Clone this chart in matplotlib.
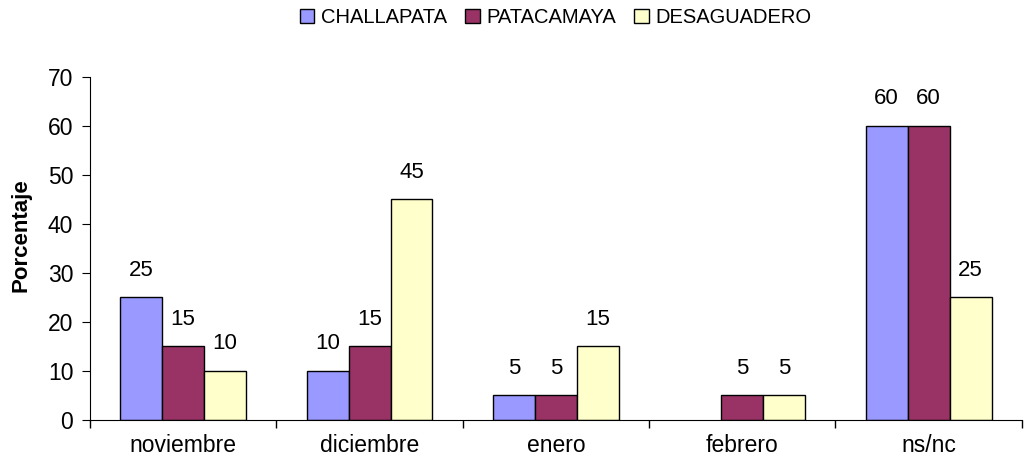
import matplotlib.pyplot as plt
import numpy as np

plt.rcParams['font.family'] = ['Liberation Sans', 'DejaVu Sans']

meses = ["noviembre", "diciembre", "enero", "febrero", "ns/nc"]
challapata = [25, 10, 5, 0, 60]
patacamaya = [15, 15, 5, 5, 60]
desaguadero = [10, 45, 15, 5, 25]

series = [("CHALLAPATA", challapata, "#9999FF"),
          ("PATACAMAYA", patacamaya, "#993366"),
          ("DESAGUADERO", desaguadero, "#FFFFCC")]

fig = plt.figure(figsize=(10.27, 4.7), dpi=100)
ax = fig.add_axes([0.0876, 0.1064, 0.9074, 0.7298])

x = np.arange(len(meses))
w = 0.225
for i, (nombre, vals, col) in enumerate(series):
    pos = x + (i - 1) * w
    bars = ax.bar(pos, vals, w, color=col, edgecolor="black", linewidth=1, label=nombre)
    for b, v in zip(bars, vals):
        if v == 0:
            b.set_edgecolor("none")
            continue
        ax.annotate(str(v), (b.get_x() + b.get_width() / 2, v), xytext=(0, 12),
                    textcoords="offset points", ha="center", va="bottom", fontsize=16)

ax.set_xlim(-0.5, len(meses) - 0.5)
ax.set_ylim(0, 70)
ax.set_yticks(range(0, 71, 10))
ax.set_xticks(x)
ax.set_xticklabels(meses)
ax.set_xticks(np.arange(-0.5, len(meses), 1), minor=True)
ax.tick_params(axis="x", which="major", length=0, labelsize=16.5, pad=10)
ax.tick_params(axis="x", which="minor", length=6, direction="out", width=1)
ax.tick_params(axis="y", length=6, direction="out", labelsize=16.5, pad=6)

for s in ["top", "right"]:
    ax.spines[s].set_visible(False)
ax.set_ylabel("Porcentaje", fontsize=16, fontweight="bold")
ax.yaxis.set_label_coords(-0.063, 0.54)

ax.legend(loc="upper center", bbox_to_anchor=(0.5, 1.255), ncol=3, frameon=False,
          fontsize=14.5, handlelength=0.7, handleheight=0.7, handletextpad=0.35,
          columnspacing=0.9)

fig.savefig("out.png", dpi=100)
